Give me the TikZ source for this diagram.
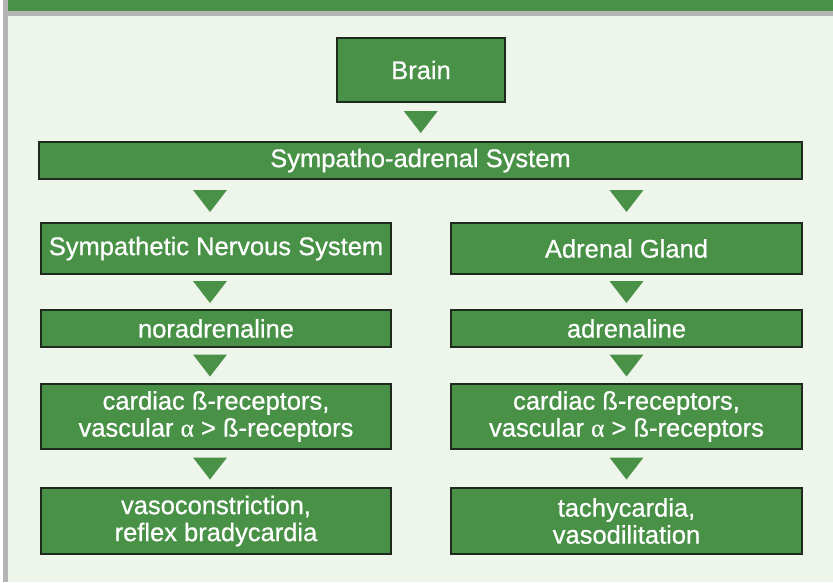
\documentclass[tikz,border=0pt]{standalone}
\usepackage{fontspec}
\setmainfont{Liberation Sans}
\newfontfamily\boxfont[FakeBold=0.7]{Liberation Sans}
\newfontfamily\grkfont[FakeBold=0.4]{Liberation Serif}
\usetikzlibrary{calc}
\definecolor{boxgreen}{HTML}{489147}
\definecolor{bglight}{HTML}{EEF5EA}
\definecolor{framegray}{HTML}{B4B4B4}
\definecolor{edgedark}{HTML}{1E2A1E}
\tikzset{
  flowbox/.style={draw=edgedark, line width=1.2pt, fill=boxgreen, text=white,
    align=center, inner sep=0pt, font=\boxfont\fontsize{25.5}{27}\selectfont},
  tripoint/.style={fill=boxgreen},
}
\newcommand{\downtri}[1]{\fill[tripoint] ($#1+(-17,-11)$) -- ($#1+(17,-11)$) -- ($#1+(0,11)$) -- cycle;}
\begin{document}
\begin{tikzpicture}[x=1pt,y=-1pt]
\useasboundingbox (0,0) rectangle (833,582);
% background and frame
\fill[white] (0,0) rectangle (833,582);
\fill[bglight] (8,16) rectangle (833,582);
\fill[framegray] (3,0) rectangle (8,582);
\fill[framegray] (3,11) rectangle (833,16);
\fill[boxgreen] (8,0) rectangle (833,11);
% boxes
\node[flowbox, minimum width=168pt, minimum height=64pt] (brain) at (421,70) {Brain};
\node[flowbox, minimum width=763pt, minimum height=37pt] (sys) at (420.5,160.5) {Sympatho-adrenal System};
\node[flowbox, minimum width=350pt, minimum height=51pt] (sns) at (216,248.5) {Sympathetic Nervous System};
\node[flowbox, minimum width=351pt, minimum height=51pt] (adg) at (626.5,248.5) {Adrenal Gland};
\node[flowbox, minimum width=350pt, minimum height=37pt] (nor) at (216,328.5) {noradrenaline};
\node[flowbox, minimum width=351pt, minimum height=37pt] (adr) at (626.5,328.5) {adrenaline};
\node[flowbox, minimum width=350pt, minimum height=65pt] (recl) at (216,416.5) {cardiac ß-receptors,\\vascular {\grkfont α} > ß-receptors};
\node[flowbox, minimum width=351pt, minimum height=65pt] (recr) at (626.5,416.5) {cardiac ß-receptors,\\vascular {\grkfont α} > ß-receptors};
\node[flowbox, minimum width=350pt, minimum height=66pt] (effl) at (216,521) {vasoconstriction,\\reflex bradycardia};
\node[flowbox, minimum width=351pt, minimum height=66pt] (effr) at (626.5,521) {tachycardia,\\vasodilitation};
% connectors (triangles)
\coordinate (t0) at ($(brain.south)!0.5!(sys.north)$);
\downtri{(t0)}
\coordinate (t1l) at ($(sns.north |- sys.south)!0.5!(sns.north) + (-6,0)$);
\downtri{(t1l)}
\coordinate (t1r) at ($(adg.north |- sys.south)!0.5!(adg.north)$);
\downtri{(t1r)}
\coordinate (t2l) at ($(sns.south)!0.5!(nor.north) + (-6,0)$);
\downtri{(t2l)}
\coordinate (t2r) at ($(adg.south)!0.5!(adr.north)$);
\downtri{(t2r)}
\coordinate (t3l) at ($(nor.south)!0.5!(recl.north) + (-6,0)$);
\downtri{(t3l)}
\coordinate (t3r) at ($(adr.south)!0.5!(recr.north)$);
\downtri{(t3r)}
\coordinate (t4l) at ($(recl.south)!0.5!(effl.north) + (-6,0)$);
\downtri{(t4l)}
\coordinate (t4r) at ($(recr.south)!0.5!(effr.north)$);
\downtri{(t4r)}
\end{tikzpicture}
\end{document}
